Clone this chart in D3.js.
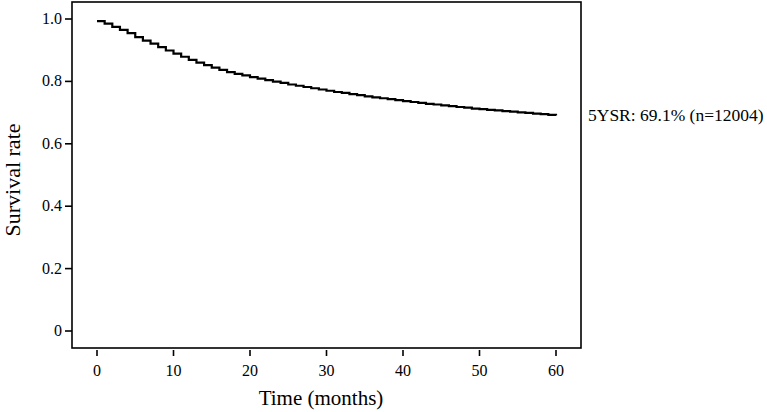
<!DOCTYPE html>
<html>
<head>
<meta charset="utf-8">
<script src="https://cdn.jsdelivr.net/npm/d3@7"></script>
<style>
  body { margin: 0; background: #fff; }
  svg { display: block; font-family: "Liberation Serif", "DejaVu Serif", serif; }
</style>
</head>
<body>
<svg id="chart" width="767" height="412"></svg>
<script>
// Kaplan-Meier estimate, one value per month
var months = d3.range(0, 61);
var survival = [
  0.993, 0.985, 0.975, 0.965, 0.955, 0.942, 0.931, 0.921, 0.910, 0.899,
  0.889, 0.879, 0.869, 0.860, 0.852, 0.844, 0.837, 0.830, 0.824, 0.819,
  0.814, 0.809, 0.804, 0.799, 0.795, 0.790, 0.786, 0.782, 0.778, 0.774,
  0.770, 0.766, 0.763, 0.759, 0.756, 0.752, 0.749, 0.746, 0.743, 0.740,
  0.737, 0.734, 0.731, 0.728, 0.726, 0.723, 0.721, 0.718, 0.716, 0.713,
  0.711, 0.709, 0.707, 0.705, 0.703, 0.701, 0.699, 0.697, 0.695, 0.693,
  0.691
];
var xTicks = [0, 10, 20, 30, 40, 50, 60];
var yTicks = [0, 0.2, 0.4, 0.6, 0.8, 1.0];
var yTickLabels = ["0", "0.2", "0.4", "0.6", "0.8", "1.0"];
var annotation = "5YSR: 69.1% (n=12004)";

var svg = d3.select("#chart");

// frame of the plot region
var box = {left: 72, right: 581, top: 2, bottom: 348};

var x = d3.scaleLinear().domain([0, 60]).range([97, 556]);
var y = d3.scaleLinear().domain([0, 1]).range([331, 19]);

svg.append("rect")
  .attr("x", box.left).attr("y", box.top)
  .attr("width", box.right - box.left)
  .attr("height", box.bottom - box.top)
  .attr("fill", "none")
  .attr("stroke", "#000")
  .attr("stroke-width", 1.6);

// x ticks (sit just below the frame)
xTicks.forEach(function(t){
  svg.append("line")
    .attr("x1", x(t)).attr("x2", x(t))
    .attr("y1", box.bottom + 2).attr("y2", box.bottom + 8)
    .attr("stroke", "#000").attr("stroke-width", 1.6);
  svg.append("text")
    .attr("x", x(t)).attr("y", 376)
    .attr("text-anchor", "middle")
    .attr("font-size", "16px")
    .text(t);
});

// y ticks
yTicks.forEach(function(t, i){
  svg.append("line")
    .attr("x1", box.left - 7).attr("x2", box.left)
    .attr("y1", y(t)).attr("y2", y(t))
    .attr("stroke", "#000").attr("stroke-width", 1.6);
  svg.append("text")
    .attr("x", box.left - 10).attr("y", y(t) + 5)
    .attr("text-anchor", "end")
    .attr("font-size", "16px")
    .text(yTickLabels[i]);
});

// axis titles
svg.append("text")
  .attr("x", 321).attr("y", 405)
  .attr("text-anchor", "middle")
  .attr("font-size", "21px")
  .text("Time (months)");

svg.append("text")
  .attr("transform", "translate(20,180) rotate(-90)")
  .attr("text-anchor", "middle")
  .attr("font-size", "22px")
  .text("Survival rate");

// survival curve
var line = d3.line()
  .x(function(d){ return x(d[0]); })
  .y(function(d){ return y(d[1]); })
  .curve(d3.curveStepAfter);

var pts = months.map(function(m, i){ return [m, survival[i]]; });

svg.append("path")
  .datum(pts)
  .attr("d", line)
  .attr("fill", "none")
  .attr("stroke", "#000")
  .attr("stroke-width", 2.2);

svg.append("text")
  .attr("x", 588).attr("y", y(survival[survival.length - 1]) + 6)
  .attr("font-size", "17.5px")
  .text(annotation);
</script>
</body>
</html>
